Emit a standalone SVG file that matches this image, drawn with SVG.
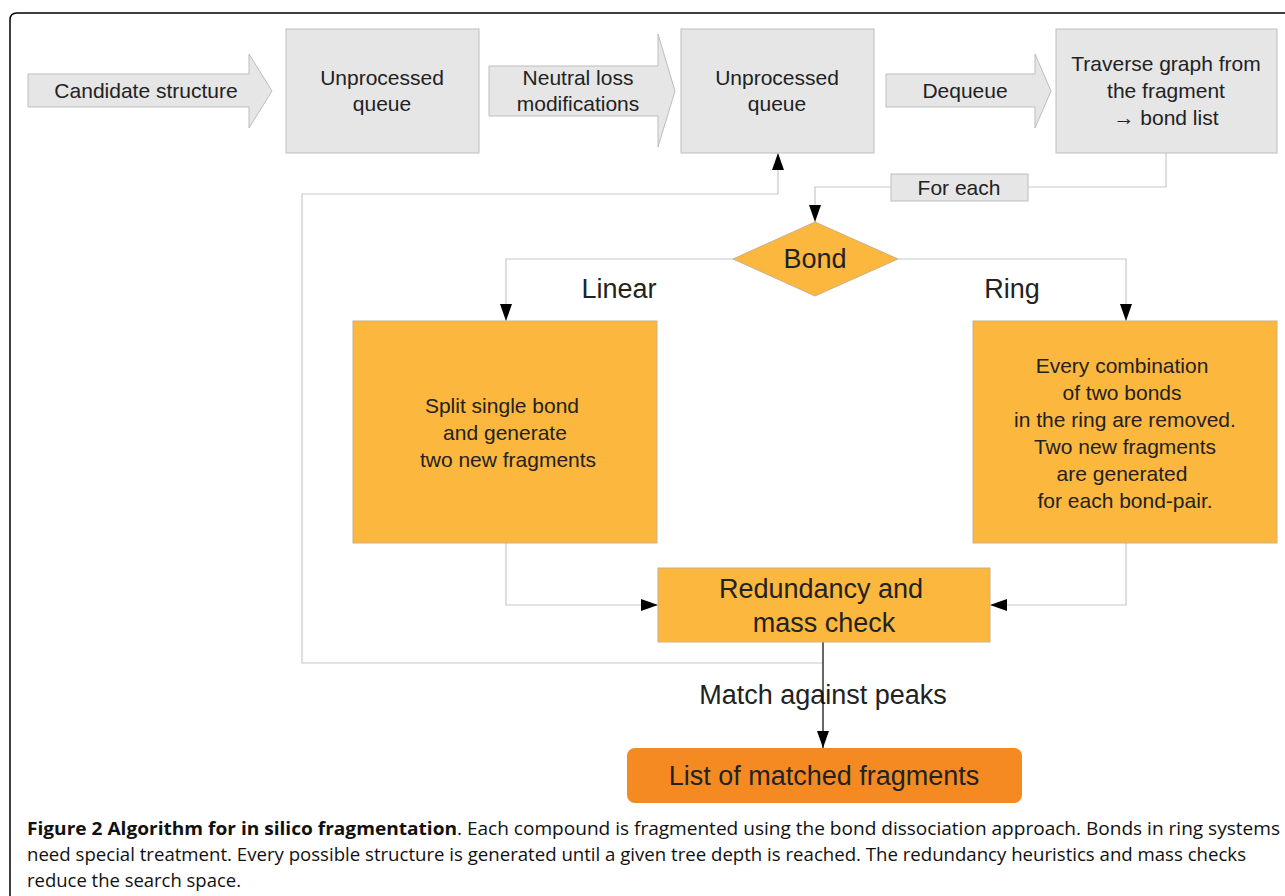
<svg xmlns="http://www.w3.org/2000/svg" width="1285" height="896" viewBox="0 0 1285 896">
<style>
.t{font-family:"Liberation Sans",Arial,sans-serif;fill:#222;text-anchor:middle}
.s{font-size:21px}
.b{font-size:27px}
.gray{fill:#e6e6e6;stroke:#bdbdbd;stroke-width:1}
.org{fill:#fcb73e;stroke:#c9b08a;stroke-width:1}
.c{fill:none;stroke:#c8c8c8;stroke-width:1.2}
.k{fill:none;stroke:#000;stroke-width:1.2}
.cap{font-family:"Open Sans","Liberation Sans",sans-serif;font-size:18px;fill:#111}
</style>
<defs>
<marker id="ah" markerUnits="userSpaceOnUse" markerWidth="17" markerHeight="12" refX="17" refY="6" orient="auto">
<path d="M0,0 L17,6 L0,12 z" fill="#000"/>
</marker>
</defs>
<rect width="1285" height="896" fill="#fff"/>
<path d="M10,896 V20 Q10,13 17,13 H1285" fill="none" stroke="#000" stroke-width="1.5"/>

<g id="connectors">
<path class="c" d="M1166,153 V187 H815 V222" marker-end="url(#ah)"/>
<path class="c" d="M733,259 H506 V321" marker-end="url(#ah)"/>
<path class="c" d="M898,259 H1126 V321" marker-end="url(#ah)"/>
<path class="c" d="M506,543 V605 H658" marker-end="url(#ah)"/>
<path class="c" d="M1126,543 V605 H990" marker-end="url(#ah)"/>
<path class="c" d="M823,663 H302 V194 H778 V153" marker-end="url(#ah)"/>
<text class="t b" x="823" y="704">Match against peaks</text>
<path class="k" d="M823,642 V748" marker-end="url(#ah)"/>
<text class="t b" x="619" y="298">Linear</text>
<text class="t b" x="1012" y="298">Ring</text>
</g>

<g id="candidate">
<polygon class="gray" points="28,74 249,74 249,54 272,91 249,128 249,107 28,107"/>
<text class="t s" x="146" y="98">Candidate structure</text>
</g>
<g id="queue1">
<rect class="gray" x="286" y="29" width="193" height="124"/>
<text class="t s" x="382" y="85">Unprocessed</text>
<text class="t s" x="382" y="111">queue</text>
</g>
<g id="neutral">
<polygon class="gray" points="489,66 658,66 658,34 675,91 658,147 658,116 489,116"/>
<text class="t s" x="578" y="85">Neutral loss</text>
<text class="t s" x="578" y="111">modifications</text>
</g>
<g id="queue2">
<rect class="gray" x="681" y="29" width="193" height="124"/>
<text class="t s" x="777" y="85">Unprocessed</text>
<text class="t s" x="777" y="111">queue</text>
</g>
<g id="dequeue">
<polygon class="gray" points="886,74 1035,74 1035,54 1051,91 1035,128 1035,107 886,107"/>
<text class="t s" x="965" y="98">Dequeue</text>
</g>
<g id="traverse">
<rect class="gray" x="1056" y="29" width="221" height="124"/>
<text class="t s" x="1166" y="71">Traverse graph from</text>
<text class="t s" x="1166" y="98">the fragment</text>
<text class="t s" x="1166" y="125">→ bond list</text>
</g>
<g id="foreach">
<rect class="gray" x="891" y="174" width="137" height="27"/>
<text class="t s" x="959" y="195">For each</text>
</g>
<g id="bond">
<polygon class="org" points="733,259 815,222 898,259 815,296"/>
<text class="t b" x="815" y="268">Bond</text>
</g>
<g id="linear">
<rect class="org" x="353" y="321" width="304" height="222"/>
<text class="t s" x="502" y="413">Split single bond</text>
<text class="t s" x="505" y="440">and generate</text>
<text class="t s" x="508" y="467">two new fragments</text>
</g>
<g id="ring">
<rect class="org" x="973" y="321" width="304" height="222"/>
<text class="t s" x="1122" y="373">Every combination</text>
<text class="t s" x="1122" y="400">of two bonds</text>
<text class="t s" x="1125" y="427">in the ring are removed.</text>
<text class="t s" x="1125" y="454">Two new fragments</text>
<text class="t s" x="1122" y="481">are generated</text>
<text class="t s" x="1125" y="508">for each bond-pair.</text>
</g>
<g id="redundancy">
<rect class="org" x="658" y="568" width="332" height="74"/>
<text class="t b" x="821" y="598">Redundancy and</text>
<text class="t b" x="824" y="632">mass check</text>
</g>
<g id="list">
<rect x="627" y="748" width="395" height="55" rx="8" fill="#f58a22"/>
<text class="t b" x="824" y="785">List of matched fragments</text>
</g>

<g id="caption">
<text class="cap" x="27" y="835" font-weight="bold" textLength="430" lengthAdjust="spacingAndGlyphs">Figure 2 Algorithm for in silico fragmentation</text>
<text class="cap" x="457" y="835" textLength="823" lengthAdjust="spacingAndGlyphs">. Each compound is fragmented using the bond dissociation approach. Bonds in ring systems</text>
<text class="cap" x="27" y="861" textLength="1219" lengthAdjust="spacingAndGlyphs">need special treatment. Every possible structure is generated until a given tree depth is reached. The redundancy heuristics and mass checks</text>
<text class="cap" x="27" y="887" textLength="214" lengthAdjust="spacingAndGlyphs">reduce the search space.</text>
</g>
</svg>
